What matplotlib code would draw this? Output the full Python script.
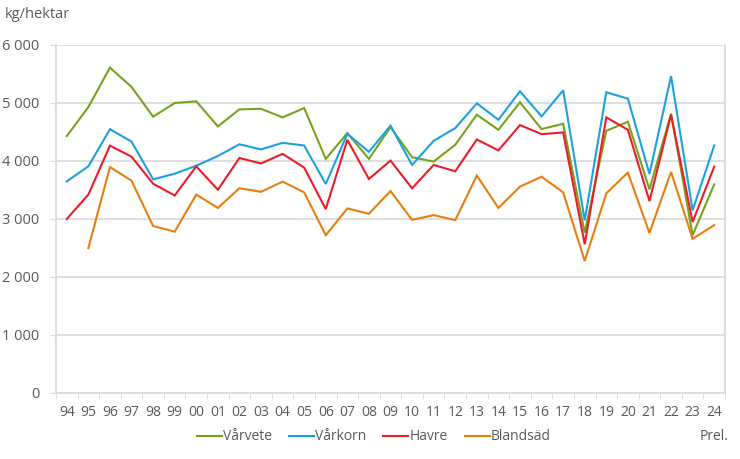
import numpy as np
import matplotlib
matplotlib.use("Agg")
import matplotlib.pyplot as plt
from matplotlib.ticker import FixedLocator, FuncFormatter

plt.rcParams['font.family'] = ['Open Sans', 'DejaVu Sans']

years = ["94", "95", "96", "97", "98", "99", "00", "01", "02", "03", "04", "05",
         "06", "07", "08", "09", "10", "11", "12", "13", "14", "15", "16", "17",
         "18", "19", "20", "21", "22", "23", "24"]

varvete = [4430, 4930, 5610, 5277, 4764, 5000, 5029, 4597, 4890, 4900, 4752, 4913,
           4036, 4481, 4036, 4585, 4065, 3990, 4279, 4798, 4538, 5012, 4550, 4642,
           2761, 4521, 4677, 3511, 4815, 2721, 3598]
varkorn = [3648, 3908, 4548, 4334, 3683, 3781, 3919, 4086, 4288, 4200, 4313, 4267,
           3604, 4469, 4158, 4608, 3932, 4348, 4567, 4994, 4711, 5202, 4769, 5219,
           2977, 5185, 5075, 3777, 5462, 3150, 4267]
havre = [3000, 3421, 4265, 4075, 3608, 3406, 3908, 3504, 4052, 3958, 4123, 3886,
         3171, 4365, 3690, 4007, 3529, 3932, 3823, 4371, 4183, 4619, 4463, 4492,
         2565, 4752, 4538, 3309, 4798, 2948, 3902]
blandsad = [np.nan, 2499, 3896, 3660, 2879, 2781, 3421, 3190, 3530, 3469, 3644, 3459,
            2720, 3182, 3090, 3482, 2986, 3067, 2980, 3748, 3191, 3557, 3730, 3459,
            2276, 3442, 3800, 2761, 3811, 2659, 2894]

series = [("Vårvete", varvete, "#77a21c"),
          ("Vårkorn", varkorn, "#1ba1e2"),
          ("Havre", havre, "#ec1c2a"),
          ("Blandsäd", blandsad, "#e67e12")]

W, H = 740, 459
fig = plt.figure(figsize=(W / 100, H / 100), dpi=100)
ax = fig.add_axes([56 / W, 1 - 393 / H, (725 - 56) / W, (393 - 45) / H])

x = np.arange(len(years))
for name, vals, col in series:
    ax.plot(x, vals, color=col, lw=1.5, label=name, solid_joinstyle='miter')

ax.set_xlim(-0.5, len(years) - 0.5)
ax.set_ylim(0, 6000)

grid_col = "#d9d9d9"
txt_col = "#595959"

ax.set_yticks(np.arange(0, 6001, 1000))
ax.yaxis.set_major_formatter(FuncFormatter(lambda v, p: f"{int(v):,}".replace(",", " ")))
ax.grid(axis='y', color=grid_col, lw=1.2)
ax.set_axisbelow(True)
ax.tick_params(axis='y', length=4, color=grid_col, labelcolor=txt_col, labelsize=10.5, pad=8)

ax.set_xticks(x)
ax.set_xticklabels(years)
ax.xaxis.set_minor_locator(FixedLocator(np.arange(-0.5, len(years), 1)))
ax.tick_params(axis='x', which='major', length=0, labelcolor=txt_col, labelsize=10, pad=9)
ax.tick_params(axis='x', which='minor', length=4, color=grid_col)

for s in ['left', 'right', 'bottom', 'top']:
    ax.spines[s].set_color(grid_col)
    ax.spines[s].set_linewidth(1.2)
ax.spines['top'].set_visible(False)

fig.text(5 / W, 1 - 14 / H, "kg/hektar", color=txt_col, fontsize=10.5, va='center', ha='left')
fig.text(714 / W, 1 - 437 / H, "Prel.", color=txt_col, fontsize=10, va='center', ha='center')

leg = fig.legend(loc='center', bbox_to_anchor=(374 / W, 1 - 437 / H), ncol=4, frameon=False,
                 handlelength=1.8, handletextpad=0.1, columnspacing=1.2, fontsize=10)
for t in leg.get_texts():
    t.set_color(txt_col)

fig.savefig("out.png", dpi=100)
